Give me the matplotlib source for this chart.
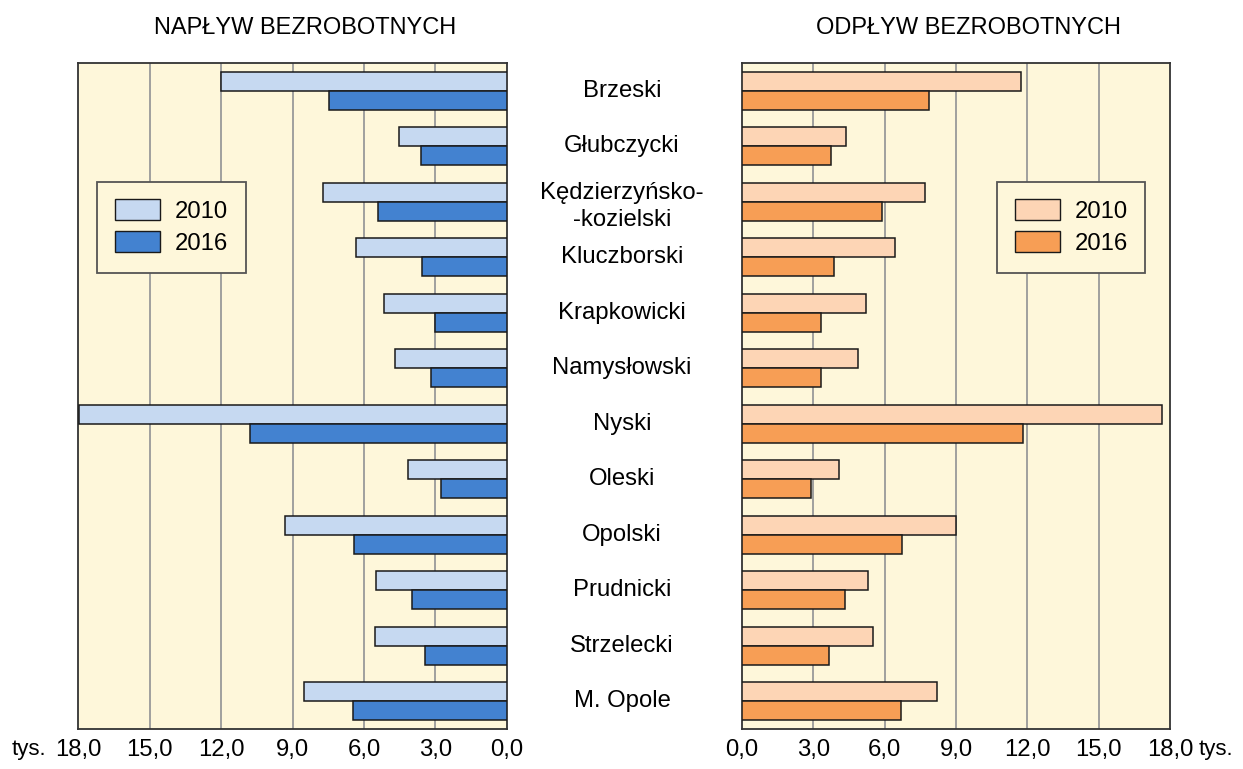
import matplotlib
matplotlib.use("Agg")
import matplotlib.pyplot as plt
from matplotlib.transforms import blended_transform_factory
from matplotlib.patches import Patch
import numpy as np

plt.rcParams['font.family'] = ['Liberation Sans', 'DejaVu Sans']

categories = ["Brzeski", "Głubczycki", "Kędzierzyńsko-\n-kozielski", "Kluczborski",
              "Krapkowicki", "Namysłowski", "Nyski", "Oleski", "Opolski",
              "Prudnicki", "Strzelecki", "M. Opole"]
inflow_2010 = [12.0, 4.55, 7.7, 6.35, 5.15, 4.72, 17.97, 4.15, 9.3, 5.5, 5.55, 8.5]
inflow_2016 = [7.48, 3.6, 5.42, 3.58, 3.0, 3.2, 10.8, 2.77, 6.4, 4.0, 3.46, 6.48]
outflow_2010 = [11.74, 4.38, 7.7, 6.42, 5.2, 4.86, 17.68, 4.1, 9.0, 5.31, 5.5, 8.18]
outflow_2016 = [7.87, 3.73, 5.9, 3.85, 3.31, 3.31, 11.82, 2.91, 6.74, 4.34, 3.64, 6.69]
ticks = [0, 3, 6, 9, 12, 15, 18]
tick_labels = ["0,0", "3,0", "6,0", "9,0", "12,0", "15,0", "18,0"]
years = ["2010", "2016"]

bg = "#fef7da"
c_lb, c_b = "#c6d9f1", "#4382d0"
c_lo, c_o = "#fdd5b5", "#f79e55"

FS = 17.2

fig = plt.figure(figsize=(12.43, 7.69), dpi=100)
axL = fig.add_axes([78/1243, 1-729/769, 429/1243, 666/769])
axR = fig.add_axes([742/1243, 1-729/769, 428/1243, 666/769])

n = len(categories)
y = np.arange(n)
h = 0.34

def setup(ax, v10, v16, c1, c2, invert):
    ax.set_facecolor(bg)
    ax.barh(y - h/2, v10, height=h, color=c1, edgecolor="#1a1a1a", linewidth=1.1, zorder=3)
    ax.barh(y + h/2, v16, height=h, color=c2, edgecolor="#1a1a1a", linewidth=1.1, zorder=3)
    ax.set_ylim(n - 0.5, -0.5)
    if invert:
        ax.set_xlim(18, 0)
    else:
        ax.set_xlim(0, 18)
    ax.set_xticks(ticks)
    ax.set_xticklabels(tick_labels, fontsize=FS)
    ax.set_yticks([])
    ax.tick_params(axis='x', length=0, pad=7)
    for t in ticks[1:-1]:
        ax.axvline(t, color="#999999", linewidth=1.3, zorder=1)
    for s in ax.spines.values():
        s.set_color("#333333")
        s.set_linewidth(1.3)
    leg = ax.legend(handles=[Patch(facecolor=c1, edgecolor="#1a1a1a", label=years[0]),
                             Patch(facecolor=c2, edgecolor="#1a1a1a", label=years[1])],
                    loc="upper left",
                    bbox_to_anchor=(0.0436 if invert else 0.595, 0.822),
                    borderaxespad=0, fontsize=FS, frameon=True, fancybox=False,
                    handlelength=1.9, handleheight=0.95, handletextpad=0.6,
                    labelspacing=0.35, borderpad=0.75)
    fr = leg.get_frame()
    fr.set_facecolor(bg)
    fr.set_edgecolor("#555555")
    fr.set_linewidth(1.3)
    fr.set_alpha(1)
    leg.set_zorder(5)

setup(axL, inflow_2010, inflow_2016, c_lb, c_b, True)
setup(axR, outflow_2010, outflow_2016, c_lo, c_o, False)

tr = blended_transform_factory(fig.transFigure, axL.transData)
for i, c in enumerate(categories):
    off = 0.09 if "\n" in c else 0.0
    fig.text(622/1243, i + off, c, transform=tr, ha="center", va="center", fontsize=17.2,
             linespacing=1.3)

fig.text(305/1243, 1-28/769, "NAPŁYW BEZROBOTNYCH", ha="center", va="center", fontsize=17)
fig.text(968/1243, 1-28/769, "ODPŁYW BEZROBOTNYCH", ha="center", va="center", fontsize=17)
fig.text(12/1243, 1-749/769, "tys.", ha="left", va="center", fontsize=16)
fig.text(1199/1243, 1-749/769, "tys.", ha="left", va="center", fontsize=16)

fig.savefig("out.png", dpi=100, facecolor="white")
